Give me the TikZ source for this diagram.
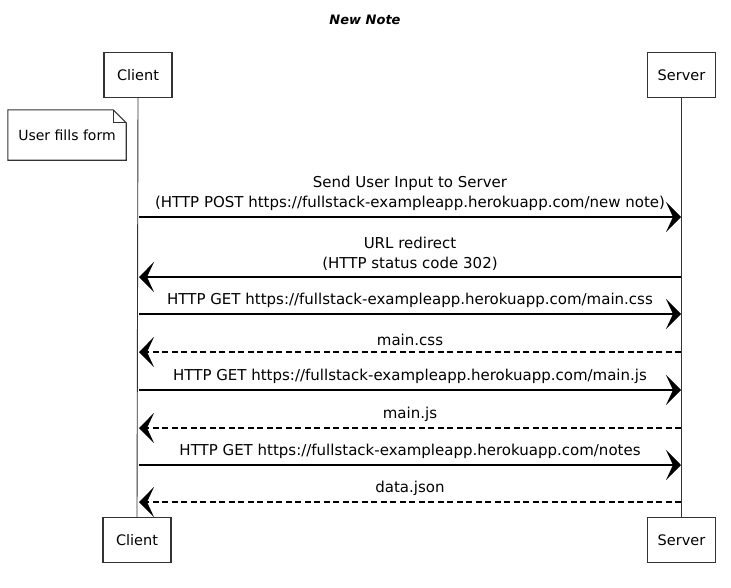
\documentclass[tikz,border=0pt]{standalone}
\usepackage{fontspec}
\setmainfont{DejaVu Sans}
\usetikzlibrary{arrows.meta}
\definecolor{ink}{HTML}{333333}
\begin{document}
\begin{tikzpicture}[x=1pt,y=-1pt,
  every node/.style={font=\fontsize{15}{20}\selectfont, text=black},
  actor/.style={draw=ink, line width=1.1pt, minimum width=68pt, minimum height=45pt, inner sep=0pt,
    font=\fontsize{14.5}{17}\selectfont},
  lifeline/.style={draw=ink, line width=0.9pt},
  msg/.style={draw=black, line width=1.2pt, -{Stealth[length=15pt,width=30pt,inset=7pt]}},
  reply/.style={msg, dash pattern=on 6pt off 3.5pt},
  lbl/.style={inner sep=1pt, align=center}]
  \useasboundingbox (0,0) rectangle (731,587);

  % title
  \node (title) at (365,20) {\fontsize{13}{15}\selectfont\bfseries\itshape New Note};

  % participants
  \node[actor] (ctop) at (138,75) {Client};
  \node[actor] (stop) at (681.5,75) {Server};
  \node[actor] (cbot) at (137,540) {Client};
  \node[actor] (sbot) at (681.5,540) {Server};
  \draw[lifeline] (ctop.south) -- (cbot.north);
  \draw[lifeline] (stop.south) -- (sbot.north);

  % note with folded corner
  \node[inner sep=0pt, minimum width=118pt, minimum height=50pt, font=\fontsize{14}{17}\selectfont] (note) at (67,135) {User fills form};
  \draw[draw=ink, line width=1.1pt] (note.north west) -- ([xshift=-13pt]note.north east)
    -- ([yshift=-13pt]note.north east) -- (note.south east) -- (note.south west) -- cycle;
  \draw[draw=ink, line width=1pt] ([xshift=-13pt]note.north east) -- ([xshift=-13pt,yshift=-13pt]note.north east)
    -- ([yshift=-13pt]note.north east);

  % message anchor points on the lifelines
  \foreach \n/\y in {1/217,2/277,3/314,4/352,5/390,6/428,7/465,8/502}{
    \coordinate (c\n) at (139,\y);
    \coordinate (s\n) at (681,\y);
  }

  % messages
  \draw[msg] (c1) -- (s1) node[midway, above=5pt, lbl] (m1) {Send User Input to Server\\(HTTP POST https://fullstack-exampleapp.herokuapp.com/new note)};
  \draw[msg] (s2) -- (c2) node[midway, above=5pt, lbl] (m2) {URL redirect\\(HTTP status code 302)};
  \draw[msg] (c3) -- (s3) node[midway, above=5pt, lbl] (m3) {HTTP GET https://fullstack-exampleapp.herokuapp.com/main.css};
  \draw[reply] (s4) -- (c4) node[midway, above=5pt, lbl] (m4) {main.css};
  \draw[msg] (c5) -- (s5) node[midway, above=5pt, lbl] (m5) {HTTP GET https://fullstack-exampleapp.herokuapp.com/main.js};
  \draw[reply] (s6) -- (c6) node[midway, above=5pt, lbl] (m6) {main.js};
  \draw[msg] (c7) -- (s7) node[midway, above=5pt, lbl] (m7) {HTTP GET https://fullstack-exampleapp.herokuapp.com/notes};
  \draw[reply] (s8) -- (c8) node[midway, above=5pt, lbl] (m8) {data.json};
\end{tikzpicture}
\end{document}
